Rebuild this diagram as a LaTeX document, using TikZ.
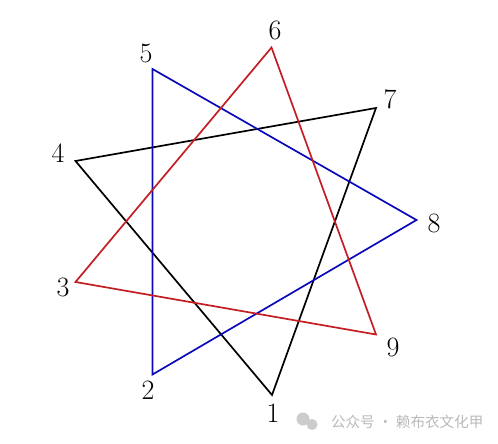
\documentclass[tikz,border=0pt]{standalone}
\usepackage{fontspec}
\newfontfamily\cjk{Noto Sans CJK SC}
\usepackage{tikz}

\begin{document}
\begin{tikzpicture}[x=1pt,y=-1pt,
  every node/.style={font=\fontsize{28}{30}\selectfont, inner sep=0pt, outer sep=0pt},
  side/.style={line width=1.7pt}]
\useasboundingbox (0,0) rectangle (498,444);

\coordinate (p1) at (272,395);
\coordinate (p2) at (152.5,374.5);
\coordinate (p3) at (75.5,282);
\coordinate (p4) at (75.5,161);
\coordinate (p5) at (152.5,69);
\coordinate (p6) at (271.5,47.5);
\coordinate (p7) at (376,108);
\coordinate (p8) at (416.5,220);
\coordinate (p9) at (376,334.5);

\node (n1) at (273,413) {1};
\node (n2) at (148,390) {2};
\node (n3) at (63,287) {3};
\node (n4) at (58,153) {4};
\node (n5) at (146,53) {5};
\node (n6) at (275,30) {6};
\node (n7) at (390,99) {7};
\node (n8) at (434,223) {8};
\node (n9) at (393,347) {9};

\draw[side, black] (p1) -- (p4) -- (p7) -- cycle;
\draw[side, color={rgb,255:red,10;green,10;blue,185}] (p2) -- (p5) -- (p8) -- cycle;
\draw[side, color={rgb,255:red,195;green,30;blue,35}] (p3) -- (p6) -- (p9) -- cycle;

% watermark
\fill[gray!40] (303,419) circle (6.5);
\fill[gray!40] (312,424.5) circle (5.5);
\node[font=\cjk\fontsize{14.6}{16}\selectfont, text=gray!55, anchor=west] (mark) at (331,422) {公众号 · 赖布衣文化甲};
\end{tikzpicture}
\end{document}
